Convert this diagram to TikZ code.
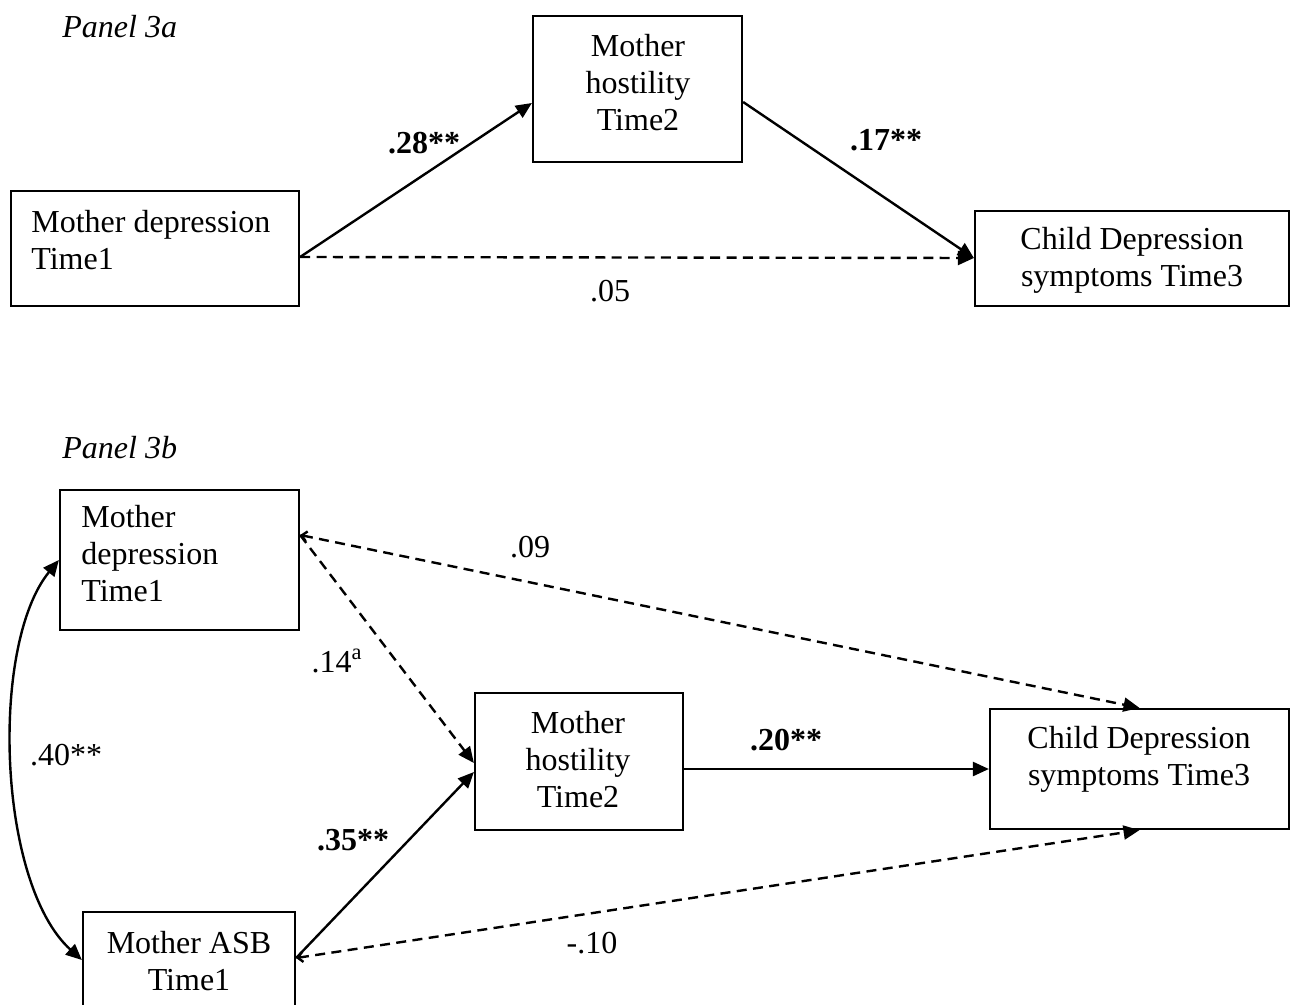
\documentclass[tikz,border=0pt]{standalone}
\usepackage{fontspec}
\setmainfont{Liberation Serif}
\usetikzlibrary{arrows.meta}
\begin{document}
\begin{tikzpicture}[x=0.5pt,y=-0.5pt,
  box/.style={draw, line width=1.1pt, inner sep=0pt},
  txt/.style={inner sep=0pt, font=\fontsize{16}{18.5}\selectfont},
  lab/.style={inner sep=0pt, font=\fontsize{16}{18.5}\selectfont},
  conn/.style={line width=1.2pt, -{Triangle[length=8pt,width=7pt]}},
  dconn/.style={conn, dash pattern=on 5pt off 3.2pt},
  barbd/.style={line width=1.2pt, dash pattern=on 5pt off 3.2pt,
    {Straight Barb[length=2.5pt,width=5pt]}-{Triangle[length=8pt,width=7pt]}},
]
\clip (0,0) rectangle (1294,1005);
\fill[white] (0,0) rectangle (1294,1005);

% ---------- Panel 3a ----------
\node[txt, anchor=west] (pa) at (62,27) {\itshape Panel 3a};

\node[box, minimum width=144pt, minimum height=57.5pt] (a1) at (155,248.5) {};
\node[txt, align=left, anchor=west] (a1t) at (31,240) {Mother depression\\Time1};

\node[box, minimum width=104.5pt, minimum height=73pt] (a2) at (637.5,89) {};
\node[txt, align=center] (a2t) at (638,83) {Mother\\hostility\\Time2};

\node[box, minimum width=157pt, minimum height=47.5pt] (a3) at (1132,258.5) {};
\node[txt, align=center] (a3t) at (1132,260) {Child Depression\\symptoms Time3};

\draw[conn] ([yshift=-4.25pt]a1.east) -- ([yshift=-7pt]a2.west);
\draw[conn] ([yshift=-6.5pt]a2.east) -- ([yshift=0.25pt]a3.west);
\draw[dconn] ([yshift=-4.25pt]a1.east) -- ([yshift=0.25pt]a3.west);

\node[lab] (l28) at (424,143) {\textbf{.28**}};
\node[lab] (l17) at (886,140) {\textbf{.17**}};
\node[lab] (l05) at (610,291) {.05};

% ---------- Panel 3b ----------
\node[txt, anchor=west] (pb) at (62,448) {\itshape Panel 3b};

\node[box, minimum width=119.5pt, minimum height=70pt] (b1) at (179.5,560) {};
\node[txt, align=left, anchor=west] (b1t) at (81,554) {Mother\\depression\\Time1};

\node[box, minimum width=104pt, minimum height=68.5pt] (b2) at (579,761.5) {};
\node[txt, align=center] (b2t) at (578,760) {Mother\\hostility\\Time2};

\node[box, minimum width=149.5pt, minimum height=60pt] (b3) at (1139.5,769) {};
\node[txt, align=center] (b3t) at (1139,759) {Child Depression\\symptoms Time3};

\node[box, minimum width=106pt, minimum height=64pt] (b4) at (189,976) {};
\node[txt, align=center] (b4t) at (189,961) {Mother ASB\\Time1};

\draw[barbd] ([yshift=12.5pt]b1.east) -- (b3.north);
\draw[dconn] ([yshift=12.5pt]b1.east) -- ([yshift=-0.75pt]b2.west);
\draw[conn] ([yshift=9pt]b4.east) -- ([yshift=-5.25pt]b2.west);
\draw[conn] ([yshift=-3.75pt]b2.east) -- ([yshift=-3.75pt]b2.east -| b3.west);
\draw[barbd] ([yshift=9pt]b4.east) -- (b3.south);
\draw[line width=1.2pt, {Triangle[length=8pt,width=7pt]}-{Triangle[length=8pt,width=7pt]}]
  (b1.west) .. controls (-10,644) and (-3,883) .. ([yshift=8pt]b4.west);

\node[lab] (l09) at (530,547) {.09};
\node[lab] (l14) at (337,661) {.14\textsuperscript{a}};
\node[lab] (l20) at (786,740) {\textbf{.20**}};
\node[lab] (l35) at (353,840) {\textbf{.35**}};
\node[lab] (l10) at (592,943) {-.10};
\node[lab] (l40) at (66,755) {.40**};
\end{tikzpicture}
\end{document}
